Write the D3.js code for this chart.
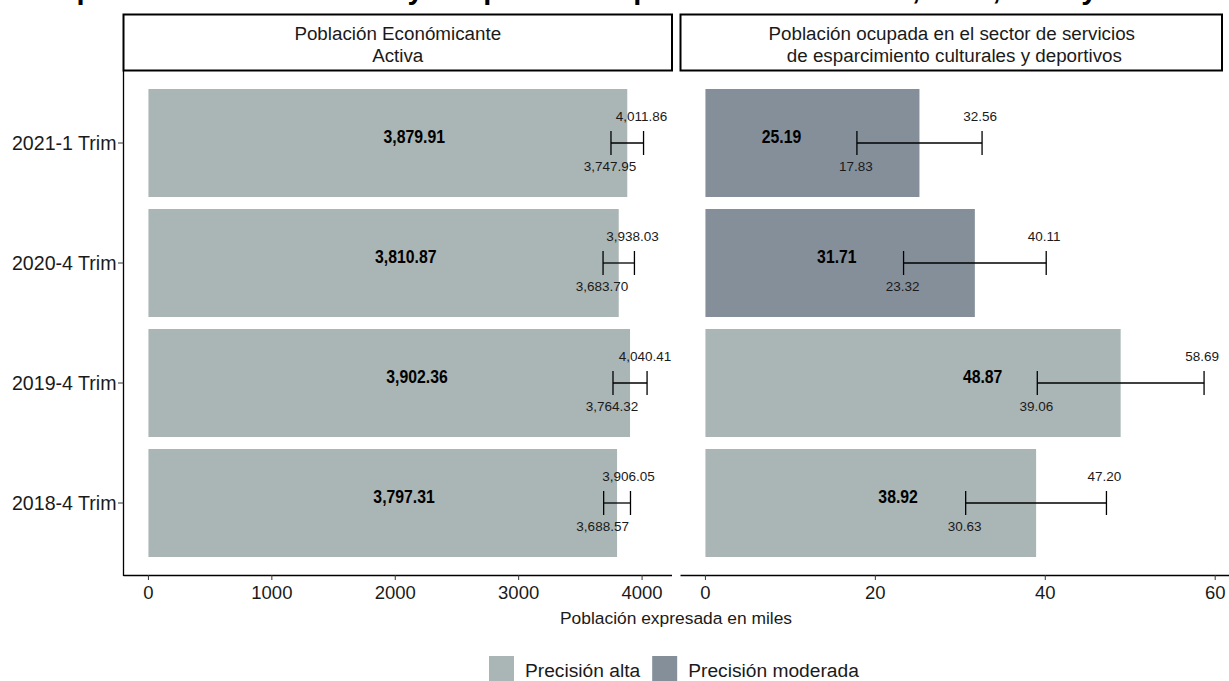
<!DOCTYPE html>
<html>
<head>
<meta charset="utf-8">
<script src="https://cdn.jsdelivr.net/npm/d3@7"></script>
<style>
  html, body { margin: 0; padding: 0; background: #fff; }
  svg { display: block; font-family: "Liberation Sans", Arial, sans-serif; }
</style>
</head>
<body>
<svg id="chart" width="1229" height="681"></svg>
<script>
// Periods, top to bottom
const periods = ["2021-1 Trim", "2020-4 Trim", "2019-4 Trim", "2018-4 Trim"];

// Economically active population (thousands) with confidence bounds
const peaValue = [3879.91, 3810.87, 3902.36, 3797.31];
const peaLower = [3747.95, 3683.70, 3764.32, 3688.57];
const peaUpper = [4011.86, 3938.03, 4040.41, 3906.05];
const peaPrecision = ["Precisión alta", "Precisión alta", "Precisión alta", "Precisión alta"];

// Employed population in recreational, cultural and sports services (thousands)
const ocuValue = [25.19, 31.71, 48.87, 38.92];
const ocuLower = [17.83, 23.32, 39.06, 30.63];
const ocuUpper = [32.56, 40.11, 58.69, 47.20];
const ocuPrecision = ["Precisión moderada", "Precisión moderada", "Precisión alta", "Precisión alta"];

const panelTitles = [
  ["Población Económicante", "Activa"],
  ["Población ocupada en el sector de servicios", " de esparcimiento culturales y deportivos"]
];
const peaTicks = [0, 1000, 2000, 3000, 4000];
const ocuTicks = [0, 20, 40, 60];
const legendLabels = ["Precisión alta", "Precisión moderada"];
const axisTitle = "Población expresada en miles";
const chartTitle = "Comparativo de la PEA total y ocupada en esparcimiento en 2018, 2019, 2020 y 2021";

const fmt = d3.format(",.2f");
const color = d3.scaleOrdinal().domain(legendLabels).range(["#aab5b5", "#858f9a"]);

const svg = d3.select("#chart");

// Title (runs off the top edge of the canvas)
const titleEl = svg.append("text")
  .attr("x", 0).attr("y", -1)
  .attr("font-size", 29).attr("font-weight", "bold").attr("fill", "#000")
  .text(chartTitle);
{
  const node = titleEl.node();
  const commaAt = chartTitle.indexOf(",");
  const before = node.getSubStringLength(0, commaAt);
  titleEl.attr("x", 912 - before);
}

const plotTop = 71, plotBottom = 575;
const y = d3.scaleBand().domain(periods).range([plotTop, plotBottom]).paddingInner(0.1).paddingOuter(0.15);

const panels = [
  { x0: 123.5, x1: 672, value: peaValue, lower: peaLower, upper: peaUpper, prec: peaPrecision,
    ticks: peaTicks, title: panelTitles[0], labelShift: 213 },
  { x0: 680.5, x1: 1229, value: ocuValue, lower: ocuLower, upper: ocuUpper, prec: ocuPrecision,
    ticks: ocuTicks, title: panelTitles[1], labelShift: 138 }
];

panels.forEach((p, pi) => {
  const maxV = d3.max(p.upper);
  const pad = maxV * 0.05;
  const x = d3.scaleLinear().domain([-pad, maxV + pad]).range([p.x0, p.x1]);
  const g = svg.append("g");

  // facet strip
  g.append("rect")
    .attr("x", p.x0).attr("y", 14.5)
    .attr("width", p.x1 - p.x0 - (pi === 1 ? 7 : 0)).attr("height", plotTop - 15)
    .attr("fill", "#fff").attr("stroke", "#000").attr("stroke-width", 2);
  const cx = (p.x0 + p.x1) / 2 - (pi === 1 ? 3 : 0);
  g.append("text")
    .attr("x", cx).attr("y", 40)
    .attr("text-anchor", "middle").attr("font-size", 18.8).attr("fill", "#1a1a1a")
    .text(p.title[0]);
  g.append("text")
    .attr("x", cx).attr("y", 62)
    .attr("text-anchor", "middle").attr("font-size", 18.8).attr("fill", "#1a1a1a")
    .style("white-space", "pre")
    .text(p.title[1]);

  const rows = periods.map((d, i) => ({
    period: d, value: p.value[i], lower: p.lower[i], upper: p.upper[i], prec: p.prec[i]
  }));

  // bars
  g.selectAll("rect.bar").data(rows).join("rect")
    .attr("class", "bar")
    .attr("x", x(0)).attr("y", d => y(d.period))
    .attr("width", d => x(d.value) - x(0))
    .attr("height", y.bandwidth())
    .attr("fill", d => color(d.prec));

  // error bars and labels
  const capH = y.step() * 0.2;
  rows.forEach(d => {
    const cy = y(d.period) + y.bandwidth() / 2;
    g.append("line").attr("x1", x(d.lower)).attr("x2", x(d.upper))
      .attr("y1", cy).attr("y2", cy).attr("stroke", "#000").attr("stroke-width", 1.3);
    [d.lower, d.upper].forEach(v => {
      g.append("line").attr("x1", x(v)).attr("x2", x(v))
        .attr("y1", cy - capH / 2).attr("y2", cy + capH / 2)
        .attr("stroke", "#000").attr("stroke-width", 1.3);
    });
    g.append("text").attr("x", x(d.upper) - 2).attr("y", cy - 22)
      .attr("text-anchor", "middle").attr("font-size", 13.5).attr("fill", "#1a1a1a")
      .text(fmt(d.upper));
    g.append("text").attr("x", x(d.lower) - 1).attr("y", cy + 28)
      .attr("text-anchor", "middle").attr("font-size", 13.5).attr("fill", "#1a1a1a")
      .text(fmt(d.lower));
    const lab = g.append("text").attr("x", x(d.value) - p.labelShift).attr("y", cy)
      .attr("text-anchor", "middle")
      .attr("font-size", 19).attr("font-weight", "bold").attr("fill", "#000")
      .text(fmt(d.value));
    const w = lab.node().getComputedTextLength();
    lab.attr("textLength", w * 0.83).attr("lengthAdjust", "spacingAndGlyphs");
  });

  // x axis
  g.append("line").attr("x1", p.x0).attr("x2", p.x1)
    .attr("y1", plotBottom + 0.5).attr("y2", plotBottom + 0.5).attr("stroke", "#000").attr("stroke-width", 1.3);
  p.ticks.forEach(t => {
    g.append("line").attr("x1", x(t)).attr("x2", x(t))
      .attr("y1", plotBottom).attr("y2", plotBottom + 5).attr("stroke", "#333").attr("stroke-width", 1);
    g.append("text").attr("x", x(t)).attr("y", plotBottom + 24)
      .attr("text-anchor", "middle").attr("font-size", 18.5).attr("fill", "#1a1a1a")
      .text(d3.format("d")(t));
  });
});

// y axis on the left panel
svg.append("line").attr("x1", 123.5).attr("x2", 123.5).attr("y1", plotTop).attr("y2", plotBottom + 1)
  .attr("stroke", "#000").attr("stroke-width", 1.3);
periods.forEach(d => {
  const cy = y(d) + y.bandwidth() / 2;
  svg.append("line").attr("x1", 118).attr("x2", 123.5).attr("y1", cy).attr("y2", cy)
    .attr("stroke", "#333").attr("stroke-width", 1);
  svg.append("text").attr("x", 116.5).attr("y", cy + 7)
    .attr("text-anchor", "end").attr("font-size", 19.6).attr("fill", "#1a1a1a")
    .text(d);
});

// axis title
svg.append("text").attr("x", 676).attr("y", 624)
  .attr("text-anchor", "middle").attr("font-size", 17.4).attr("fill", "#1a1a1a")
  .text(axisTitle);

// legend
const legend = svg.append("g");
let lx = 489;
legendLabels.forEach(l => {
  legend.append("rect").attr("x", lx).attr("y", 656).attr("width", 25).attr("height", 25)
    .attr("fill", color(l));
  const t = legend.append("text").attr("x", lx + 36).attr("y", 677)
    .attr("font-size", 19.2).attr("fill", "#1a1a1a").text(l);
  lx += 36 + t.node().getComputedTextLength() + 12;
});
</script>
</body>
</html>
